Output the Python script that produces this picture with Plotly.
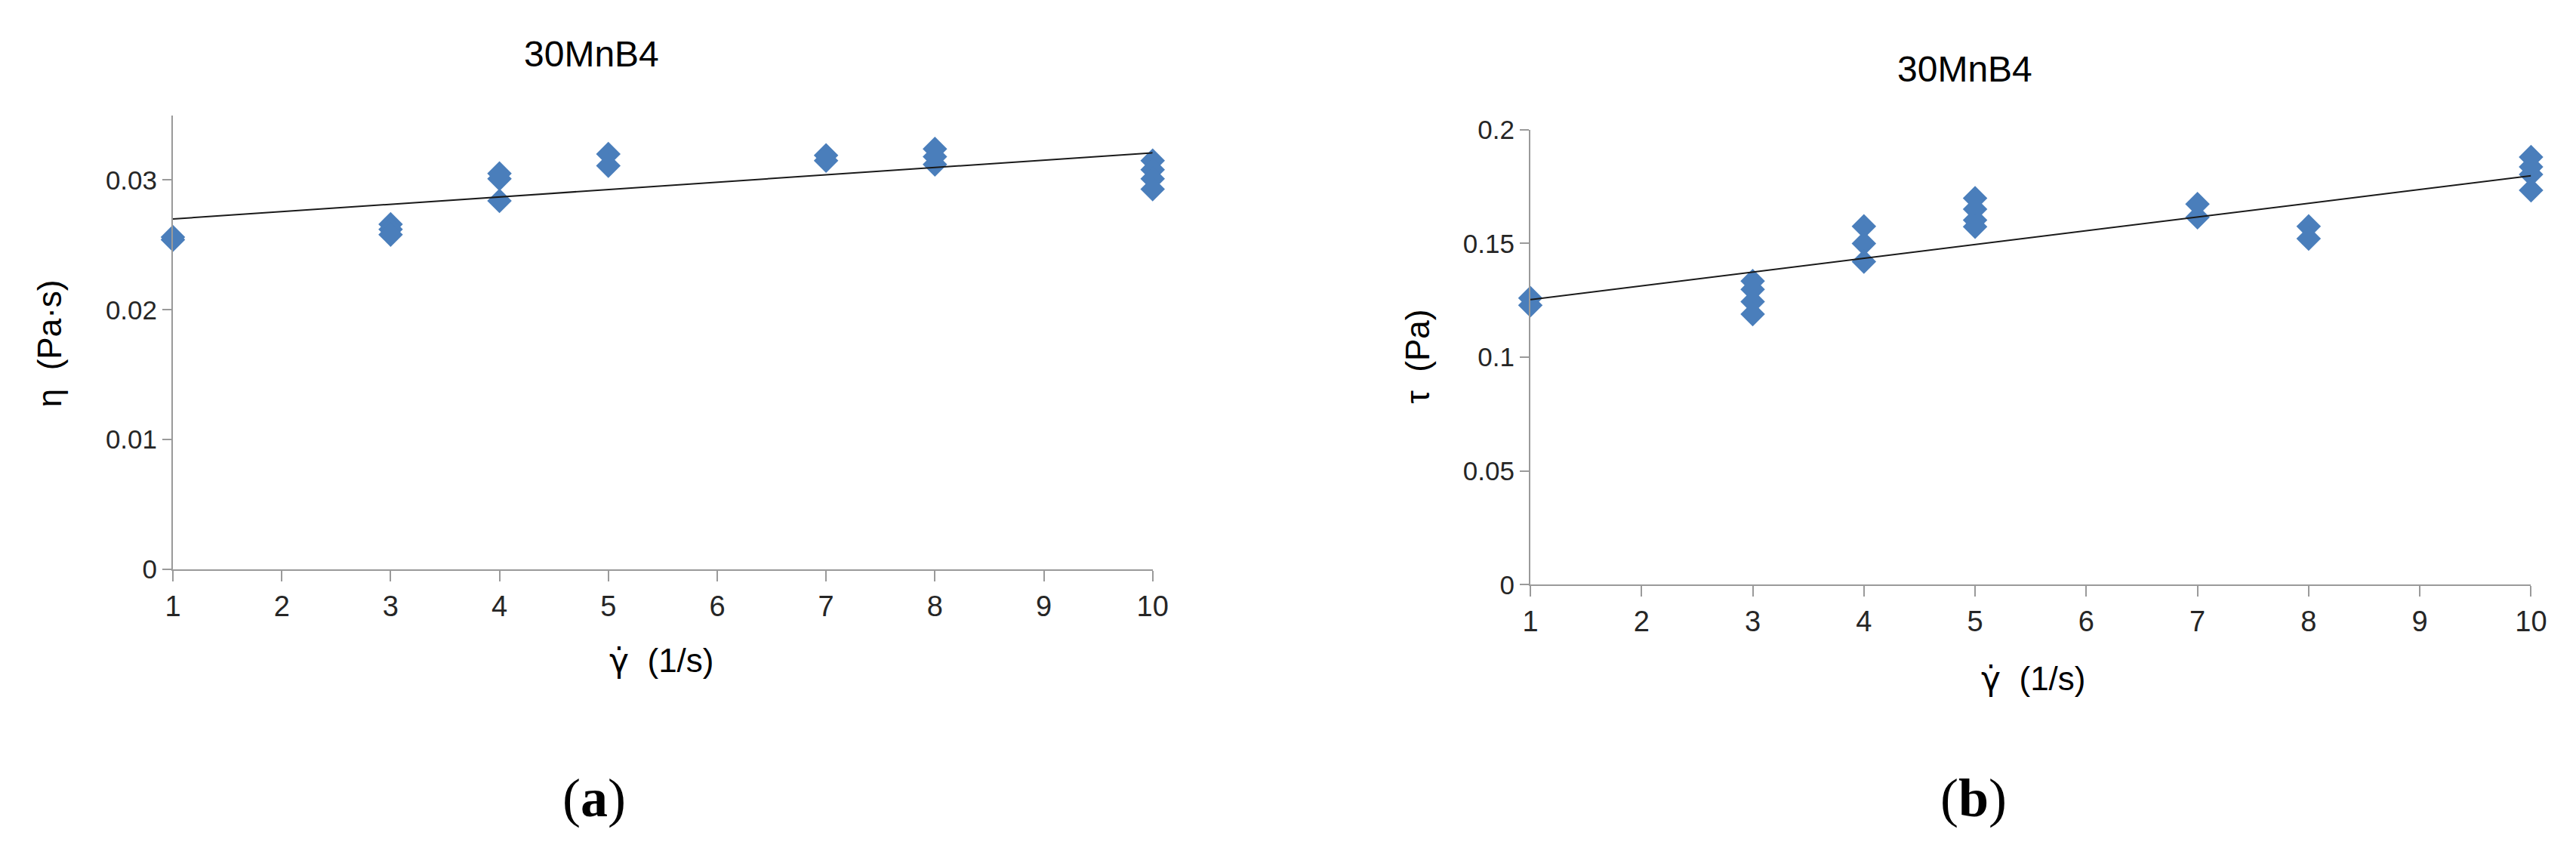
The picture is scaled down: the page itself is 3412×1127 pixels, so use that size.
import plotly.graph_objects as go

# ---- data ----
shear_rate_a = [1, 1, 3, 3, 3, 4, 4, 4, 5, 5, 7, 7, 8, 8, 8, 10, 10, 10, 10]
eta = [0.0256, 0.0254, 0.0266, 0.0262, 0.0258, 0.0305, 0.0301, 0.0284, 0.0320, 0.0311,
       0.0319, 0.0315, 0.0324, 0.0318, 0.0312, 0.0315, 0.0308, 0.0301, 0.0293]

shear_rate_b = [1, 1, 3, 3, 3, 3, 4, 4, 4, 5, 5, 5, 5, 7, 7, 8, 8, 10, 10, 10, 10]
tau = [0.1260, 0.1228, 0.1335, 0.1298, 0.1244, 0.1189, 0.1575, 0.1500, 0.1420,
       0.1699, 0.1651, 0.1603, 0.1574, 0.1673, 0.1615, 0.1575, 0.1521,
       0.1880, 0.1837, 0.1804, 0.1734]

trend_x = [1, 10]
trend_eta = [0.0270, 0.0321]
trend_tau = [0.1253, 0.1798]

W, H = 3412, 1127
BLUE = "#4a7ebb"
AXIS = "#9a9a9a"
FONT = "Liberation Sans, Arial, sans-serif"
GDOT = '<span style="font-family:DejaVu Sans">\u03b3\u0307</span>'


def px(x):
    return x / W


def py(y):
    return 1 - y / H


fig = go.Figure()

fig.add_trace(go.Scatter(x=shear_rate_a, y=eta, mode="markers", xaxis="x", yaxis="y",
                         marker=dict(symbol="diamond", size=25, color=BLUE), cliponaxis=False))
fig.add_trace(go.Scatter(x=trend_x, y=trend_eta, mode="lines", xaxis="x", yaxis="y",
                         line=dict(color="#1a1a1a", width=2), cliponaxis=False))

fig.add_trace(go.Scatter(x=shear_rate_b, y=tau, mode="markers", xaxis="x2", yaxis="y2",
                         marker=dict(symbol="diamond", size=25, color=BLUE), cliponaxis=False))
fig.add_trace(go.Scatter(x=trend_x, y=trend_tau, mode="lines", xaxis="x2", yaxis="y2",
                         line=dict(color="#1a1a1a", width=2), cliponaxis=False))

xcommon = dict(range=[1, 10], tickmode="linear", tick0=1, dtick=1, showline=True, linecolor=AXIS,
               linewidth=2, ticks="outside", ticklen=14, tickwidth=2, tickcolor=AXIS,
               showgrid=False, zeroline=False, tickfont=dict(family=FONT, size=38, color="#262626"))
ycommon = dict(showline=True, linecolor=AXIS, linewidth=2, ticks="outside", ticklen=12,
               tickwidth=2, tickcolor=AXIS, showgrid=False, zeroline=False,
               tickfont=dict(family=FONT, size=35, color="#262626"))

fig.update_layout(
    width=W, height=H, margin=dict(l=0, r=0, t=0, b=0),
    paper_bgcolor="white", plot_bgcolor="white", showlegend=False,
    xaxis=dict(domain=[px(212), px(1522)], anchor="y", **xcommon),
    yaxis=dict(domain=[py(752), py(129)], anchor="x", range=[0, 0.035],
               tickvals=[0, 0.01, 0.02, 0.03], **ycommon),
    xaxis2=dict(domain=[px(2027), px(3365)], anchor="y2", **xcommon),
    yaxis2=dict(domain=[py(773), py(149)], anchor="x2", range=[0, 0.2],
                tickvals=[0, 0.05, 0.1, 0.15, 0.2], ticktext=["0", "0.05", "0.1", "0.15", "0.2"],
                **ycommon),
)

texts = [
    ("30MnB4", 772, 45, 48, 0, FONT),
    ("30MnB4", 2608, 66, 48, 0, FONT),
    ("\u03b7\u00a0\u00a0(Pa\u00b7s)", 47, 442, 44, -90, FONT),
    ("\u03c4\u00a0\u00a0(Pa)", 1876, 460, 44, -90, FONT),
    (GDOT + "\u00a0\u00a0(1/s)", 866, 877, 44, 0, FONT),
    (GDOT + "\u00a0\u00a0(1/s)", 2700, 902, 44, 0, FONT),
    ("(<b>a</b>)", 775, 1066, 72, 0, "Liberation Serif, Times New Roman, serif"),
    ("(<b>b</b>)", 2620, 1066, 72, 0, "Liberation Serif, Times New Roman, serif"),
]
for t, x, y, size, ang, fam in texts:
    fig.add_annotation(text=t, x=px(x), y=py(y), xref="paper", yref="paper",
                       xanchor="center", yanchor="middle", showarrow=False, textangle=ang,
                       font=dict(family=fam, size=size, color="black"))

fig.write_html("out.html")
